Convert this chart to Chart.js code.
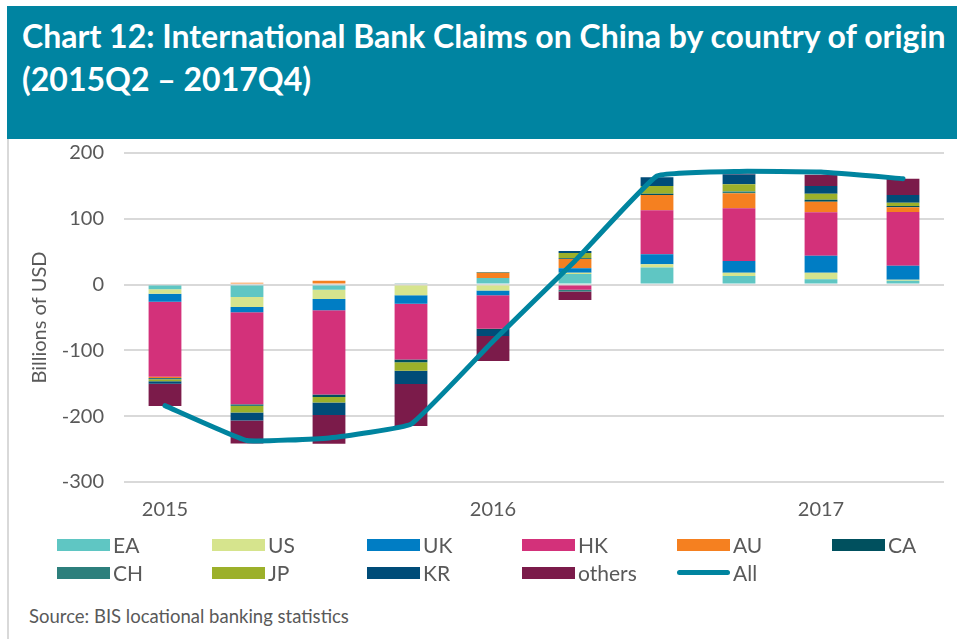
<!DOCTYPE html>
<html>
<head>
<meta charset="utf-8">
<script src="https://cdn.jsdelivr.net/npm/chart.js@4/dist/chart.umd.min.js"></script>
<style>
  html, body { margin: 0; padding: 0; background: #fff; }
  body { width: 957px; height: 639px; position: relative; overflow: hidden; font-family: Lato, "Open Sans", sans-serif; }
  .frame { position: absolute; left: 7px; top: 6px; right: 0; bottom: 0; border-left: 2px solid #d9d9d9; }
  .header { position: absolute; left: 7px; top: 6px; width: 950px; height: 133px; background: #0084a1; }
  .header h1 { margin: 0; position: absolute; left: 15px; top: 8px; color: #fff; font: bold 32px Lato, sans-serif; line-height: 43px; }
  .chart-wrap { position: absolute; left: 0; top: 121px; width: 957px; height: 413px; }
  .legend { position: absolute; left: 57px; top: 533px; display: grid; grid-template-columns: repeat(6, 155px); row-gap: 5px; }
  .legend-item { display: flex; align-items: center; height: 23px; color: #595959; font-size: 21px; }
  .legend-box { width: 53px; height: 12px; margin-right: 3px; }
  .legend-line { width: 53px; height: 5px; border-radius: 3px; margin-right: 3px; }
  .source { position: absolute; left: 29px; top: 605px; color: #595959; font-size: 18.5px; }
</style>
</head>
<body>
<div class="frame"></div>
<div class="header"><h1>Chart 12: International Bank Claims on China by country of origin<br>(2015Q2 – 2017Q4)</h1></div>
<div class="chart-wrap"><canvas id="chart" width="957" height="413"></canvas></div>
<div class="legend" id="legend"></div>
<div class="source">Source: BIS locational banking statistics</div>

<script>
// quarters shown and the year labels on the axis
const quarters = ['2015Q3', '2015Q4', '2016Q1', '2016Q2', '2016Q3', '2016Q4', '2017Q1', '2017Q2', '2017Q3', '2017Q4'];
const xTickLabels = ['2015', '', '', '', '2016', '', '', '', '2017', ''];
const yTicks = [200, 100, 0, -100, -200, -300];

// claims by country of origin, billions of USD
const EA = [-7, -19, -8, 0, 10, 16, 26, 13, 8, 6];
const US = [-7, -15, -14, -16, -9, 2, 5, 5, 10, 1.5];
const UK = [-12, -8, -17, -13, -7, 7, 15, 18, 26, 21];
const HK = [-114, -140, -128, -85, -51, -8, 67, 80, 66, 82];
const AU = [-2, 3, 6, 0, 8, 14, 23, 23, 16, 7];
const CA = [-1, 0, -4, -4, -2, 1, 2, 0, 3, 2];
const CH = [-1, -2.5, 0, 2, 1, -2.5, 0, 2.5, 0, 0];
const JP = [-3, -10, -8, -13, 0, 8, 12, 11, 9, 5];
const KR = [-3.5, -12, -19, -20, -9, 3, 13, 15, 12, 11.5];
const others = [-34, -35, -44, -64, -38, -13, 0, 1.5, 17, 25];
const all = [-184, -237, -233, -212, -86, 36, 165, 172, 171, 161];

const barSeries = [
  { label: 'EA', data: EA, color: '#5fc6c3' },
  { label: 'US', data: US, color: '#d6e48d' },
  { label: 'UK', data: UK, color: '#007dc4' },
  { label: 'HK', data: HK, color: '#d3317a' },
  { label: 'AU', data: AU, color: '#f58020' },
  { label: 'CA', data: CA, color: '#00505e' },
  { label: 'CH', data: CH, color: '#2d7f7c' },
  { label: 'JP', data: JP, color: '#9cb02a' },
  { label: 'KR', data: KR, color: '#004c78' },
  { label: 'others', data: others, color: '#7b1b4a' }
];
const lineColor = '#00849f';

const datasets = barSeries.map(s => ({
  type: 'bar',
  label: s.label,
  data: s.data,
  backgroundColor: s.color,
  borderWidth: 0,
  stack: 'bars',
  order: 1,
  barPercentage: 0.8,
  categoryPercentage: 0.5
}));
datasets.push({
  type: 'line',
  label: 'All',
  data: all,
  borderColor: lineColor,
  borderWidth: 5,
  pointRadius: 0,
  tension: 0.1,
  borderCapStyle: 'round',
  stack: 'line',
  order: 0
});

const tickFont = { family: 'Lato', size: 20 };

new Chart(document.getElementById('chart'), {
  type: 'bar',
  data: { labels: quarters, datasets: datasets },
  options: {
    responsive: false,
    animation: false,
    layout: { padding: { left: 28, right: 13, top: 14, bottom: 4 } },
    plugins: {
      legend: { display: false },
      tooltip: { enabled: false }
    },
    scales: {
      x: {
        stacked: true,
        grid: { display: false },
        border: { display: false },
        ticks: {
          color: '#595959',
          font: tickFont,
          padding: 8,
          autoSkip: false,
          maxRotation: 0,
          callback: (value, index) => xTickLabels[index]
        }
      },
      y: {
        stacked: true,
        min: -300,
        max: 200,
        afterBuildTicks: scale => { scale.ticks = yTicks.map(v => ({ value: v })); },
        afterFit: scale => { scale.width = 96; },
        grid: { color: '#d9d9d9', lineWidth: 2, drawTicks: false },
        border: { display: false },
        ticks: { color: '#595959', font: tickFont, padding: 20 },
        title: {
          display: true,
          text: 'Billions of USD',
          color: '#595959',
          font: { family: 'Lato', size: 20 },
          padding: 0
        }
      }
    }
  }
});

// html legend laid out in fixed columns
const legend = document.getElementById('legend');
barSeries.forEach(s => {
  const item = document.createElement('div');
  item.className = 'legend-item';
  item.innerHTML = '<span class="legend-box" style="background:' + s.color + '"></span>' + s.label;
  legend.appendChild(item);
});
const allItem = document.createElement('div');
allItem.className = 'legend-item';
allItem.innerHTML = '<span class="legend-line" style="background:' + lineColor + '"></span>All';
legend.appendChild(allItem);
</script>
</body>
</html>
